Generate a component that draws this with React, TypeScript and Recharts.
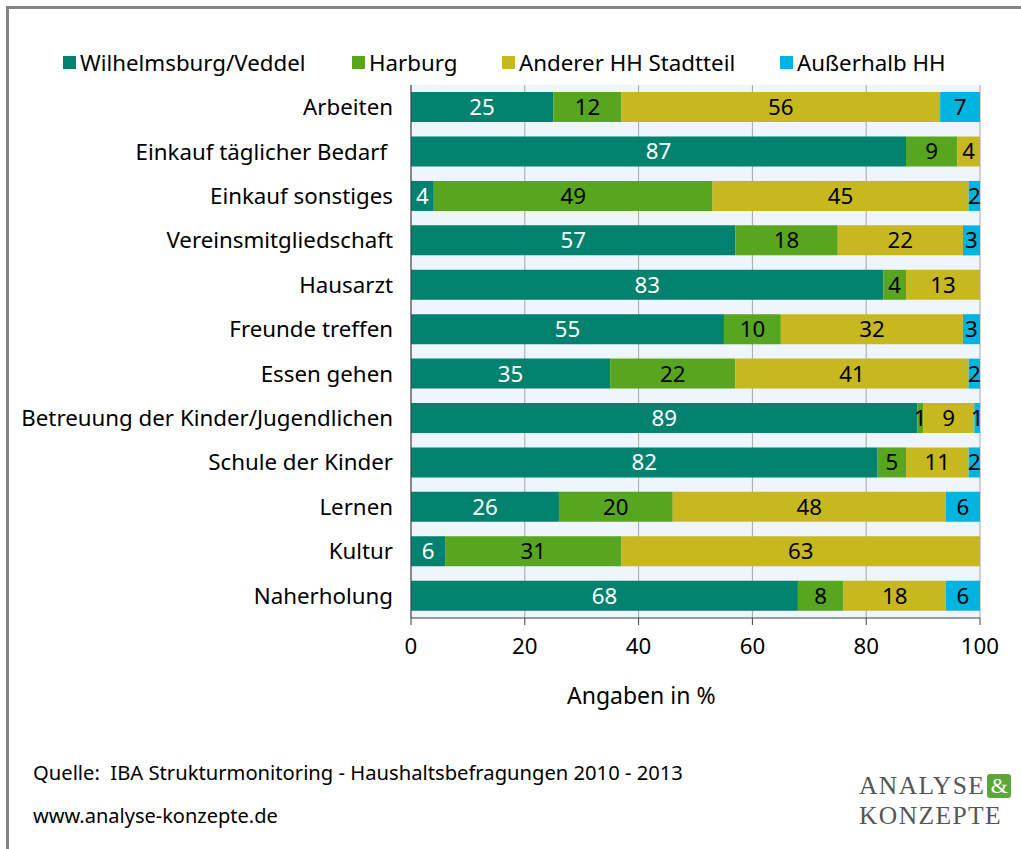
import React from "react";
import {
  BarChart,
  Bar,
  XAxis,
  YAxis,
  CartesianGrid,
  LabelList,
} from "recharts";

const CATEGORIES = [
  "Arbeiten",
  "Einkauf täglicher Bedarf\u00a0",
  "Einkauf sonstiges",
  "Vereinsmitgliedschaft",
  "Hausarzt",
  "Freunde treffen",
  "Essen gehen",
  "Betreuung der Kinder/Jugendlichen",
  "Schule der Kinder",
  "Lernen",
  "Kultur",
  "Naherholung",
];

const WILHELMSBURG = [25, 87, 4, 57, 83, 55, 35, 89, 82, 26, 6, 68];
const HARBURG = [12, 9, 49, 18, 4, 10, 22, 1, 5, 20, 31, 8];
const ANDERER = [56, 4, 45, 22, 13, 32, 41, 9, 11, 48, 63, 18];
const AUSSERHALB = [7, 0, 2, 3, 0, 3, 2, 1, 2, 6, 0, 6];

const X_TICKS = [0, 20, 40, 60, 80, 100];

const SERIES = [
  { key: "wv", name: "Wilhelmsburg/Veddel", color: "#00826f", text: "#ffffff" },
  { key: "hb", name: "Harburg", color: "#58a51f", text: "#000000" },
  { key: "ah", name: "Anderer HH Stadtteil", color: "#c8b820", text: "#000000" },
  { key: "au", name: "Außerhalb HH", color: "#00b4e0", text: "#000000" },
];

const data = CATEGORIES.map((name, i) => ({
  name,
  wv: WILHELMSBURG[i],
  hb: HARBURG[i],
  ah: ANDERER[i],
  au: AUSSERHALB[i],
}));

const FONT = "'Noto Sans', 'DejaVu Sans', sans-serif";
const FS = 22.3;

function LegendRow() {
  const lefts = [63, 352, 502, 780];
  return (
    <>
      {SERIES.map((s, i) => (
        <div
          key={s.key}
          style={{
            position: "absolute",
            left: lefts[i],
            top: 47,
            display: "flex",
            alignItems: "center",
            fontSize: FS,
            whiteSpace: "nowrap",
            color: "#000",
          }}
        >
          <span
            style={{
              display: "inline-block",
              width: 13,
              height: 13,
              background: s.color,
              marginRight: 4,
            }}
          />
          {s.name}
        </div>
      ))}
    </>
  );
}

export default function App() {
  return (
    <div
      style={{
        position: "absolute",
        left: 0,
        top: 0,
        width: 1021,
        height: 849,
        background: "#fff",
        fontFamily: FONT,
        overflow: "hidden",
      }}
    >
      <div
        style={{
          position: "absolute",
          left: 6,
          top: 6,
          right: 0,
          bottom: 0,
          borderTop: "3px solid #858585",
          borderLeft: "3px solid #858585",
        }}
      />
      <LegendRow />
      <div style={{ position: "absolute", left: 0, top: 0 }}>
        <BarChart
          width={1021}
          height={849}
          data={data}
          layout="vertical"
          barCategoryGap="16%"
          margin={{ top: 85, right: 41, bottom: 201, left: 11 }}
        >
          <CartesianGrid
            horizontal={false}
            vertical
            fill="#eef5fc"
            stroke="#a6a6a6"
          />
          <XAxis
            type="number"
            domain={[0, 100]}
            ticks={X_TICKS}
            height={30}
            axisLine={{ stroke: "#404040" }}
            tickLine={{ stroke: "#404040" }}
            tickSize={7}
            tickMargin={13}
            tick={{ fontSize: FS, fill: "#000", fontFamily: FONT }}
          />
          <XAxis
            xAxisId="top"
            orientation="top"
            type="number"
            domain={[0, 100]}
            height={0}
            tick={false}
            tickLine={false}
            axisLine={{ stroke: "#a6a6a6" }}
          />
          <YAxis
            type="category"
            dataKey="name"
            width={400}
            tickSize={0}
            tickMargin={18}
            interval={0}
            axisLine={{ stroke: "#404040" }}
            tick={{ fontSize: FS, fill: "#000", fontFamily: FONT }}
          />
          {SERIES.map((s) => (
            <Bar
              key={s.key}
              dataKey={s.key}
              name={s.name}
              stackId="a"
              fill={s.color}
              isAnimationActive={false}
            >
              <LabelList
                dataKey={s.key}
                position="center"
                fill={s.text}
                fontSize={FS}
                fontFamily={FONT}
                formatter={(v: any) => (Number(v) > 0 ? v : "")}
              />
            </Bar>
          ))}
        </BarChart>
      </div>
      <div
        style={{
          position: "absolute",
          left: 567,
          top: 679,
          fontSize: 23,
          color: "#000",
          whiteSpace: "nowrap",
        }}
      >
        Angaben in %
      </div>
      <div
        style={{
          position: "absolute",
          left: 33,
          top: 758,
          fontSize: 20.2,
          color: "#000",
          whiteSpace: "pre",
        }}
      >
        {"Quelle:  IBA Strukturmonitoring - Haushaltsbefragungen 2010 - 2013"}
      </div>
      <div
        style={{
          position: "absolute",
          left: 33,
          top: 802,
          fontSize: 20,
          color: "#000",
          whiteSpace: "nowrap",
        }}
      >
        www.analyse-konzepte.de
      </div>
      <div
        style={{
          position: "absolute",
          left: 859,
          top: 771,
          fontFamily: "'Liberation Serif', 'DejaVu Serif', serif",
          fontSize: 25.5,
          letterSpacing: 1.4,
          lineHeight: "30px",
          color: "#555",
          whiteSpace: "nowrap",
        }}
      >
        <div style={{ display: "flex", alignItems: "center", height: 30 }}>
          ANALYSE
          <span
            style={{
              display: "inline-block",
              marginLeft: 2,
              width: 24,
              height: 24,
              borderRadius: 3,
              background: "#5aa73a",
              color: "#fff",
              textAlign: "center",
              fontSize: 22,
              letterSpacing: 0,
              lineHeight: "24px",
            }}
          >
            &amp;
          </span>
        </div>
        <div style={{ height: 30 }}>KONZEPTE</div>
      </div>
    </div>
  );
}
